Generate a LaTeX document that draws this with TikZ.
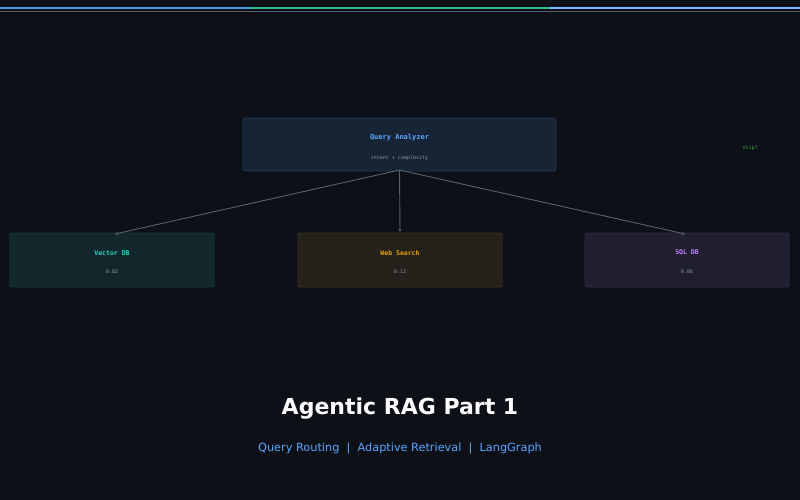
\documentclass[tikz,border=0pt]{standalone}
\usepackage{fontspec}
\setmainfont{DejaVu Sans}
\newfontfamily\monof{DejaVu Sans Mono}
\usetikzlibrary{arrows.meta}
\definecolor{bg}{HTML}{0D1017}
\definecolor{qfill}{HTML}{172436}\definecolor{qdraw}{HTML}{25354D}
\definecolor{vfill}{HTML}{12272C}\definecolor{vdraw}{HTML}{1A3A3A}
\definecolor{wfill}{HTML}{23211A}\definecolor{wdraw}{HTML}{3A3320}
\definecolor{sfill}{HTML}{201F30}\definecolor{sdraw}{HTML}{302D45}
\definecolor{edge}{HTML}{5A6068}
\definecolor{bl}{HTML}{58A6FF}\definecolor{gr}{HTML}{2EBD8F}
\definecolor{vt}{HTML}{2DD4BF}\definecolor{wt}{HTML}{E3A008}\definecolor{st}{HTML}{C084FC}
\definecolor{sk}{HTML}{3FA34D}\definecolor{gv}{HTML}{8B949E}
\begin{document}
\begin{tikzpicture}[x=1pt,y=-1pt,
 box/.style={rounded corners=2pt,line width=0.8pt},
 ttl/.style={font=\monof\fontsize{6.5}{8}\selectfont\bfseries},
 val/.style={font=\monof\fontsize{5}{6}\selectfont,text=gv},
 conn/.style={draw=edge,line width=0.9pt,-{Stealth[length=3pt,width=3pt]}}]
\fill[bg] (0,0) rectangle (800,500);
\fill[bl!90!black] (0,7) rectangle (250,9.5);
\fill[gr] (250,7) rectangle (550,9.5);
\fill[bl!80] (550,7) rectangle (800,9.5);
\fill[qdraw!80!white] (0,11) rectangle (800,12);
\draw[box,fill=qfill,draw=qdraw] (243,118) rectangle (556,171);
\node[font=\monof\fontsize{7}{8}\selectfont\bfseries,text=bl] (qa) at (399.5,138) {Query Analyzer};
\node[val] (qs) at (399.5,158) {intent + complexity};
\coordinate (qb) at (399.5,170);
\draw[box,fill=vfill,draw=vdraw] (10,233) rectangle (214,287);
\draw[box,fill=wfill,draw=wdraw] (298,233) rectangle (502,287);
\draw[box,fill=sfill,draw=sdraw] (585,233) rectangle (789,287);
\coordinate (vt) at (115,234);\coordinate (wt) at (400,232);\coordinate (st) at (685,234);
\node[ttl,text=vt] (v) at (112,253) {Vector DB};
\node[val] (v2) at (112,272) {0.82};
\node[ttl,text=wt] (w) at (400,253) {Web Search};
\node[val] (w2) at (400,272) {0.12};
\node[ttl,text=st] (s) at (687,253) {SQL DB};
\node[val] (s2) at (687,272) {0.06};
\draw[conn] (qb) -- (vt);
\draw[conn] (qb) -- (wt);
\draw[conn] (qb) -- (st);
\node[font=\monof\fontsize{5}{6}\selectfont,text=sk] (sk) at (750,148) {skip?};
\node[font=\fontsize{22}{26}\selectfont\bfseries,text=white] (t) at (400,409) {Agentic RAG Part 1};
\node[font=\fontsize{11.3}{13}\selectfont,text=bl] (t2) at (400,449) {Query Routing \ | \ Adaptive Retrieval \ | \ LangGraph};
\end{tikzpicture}
\end{document}
